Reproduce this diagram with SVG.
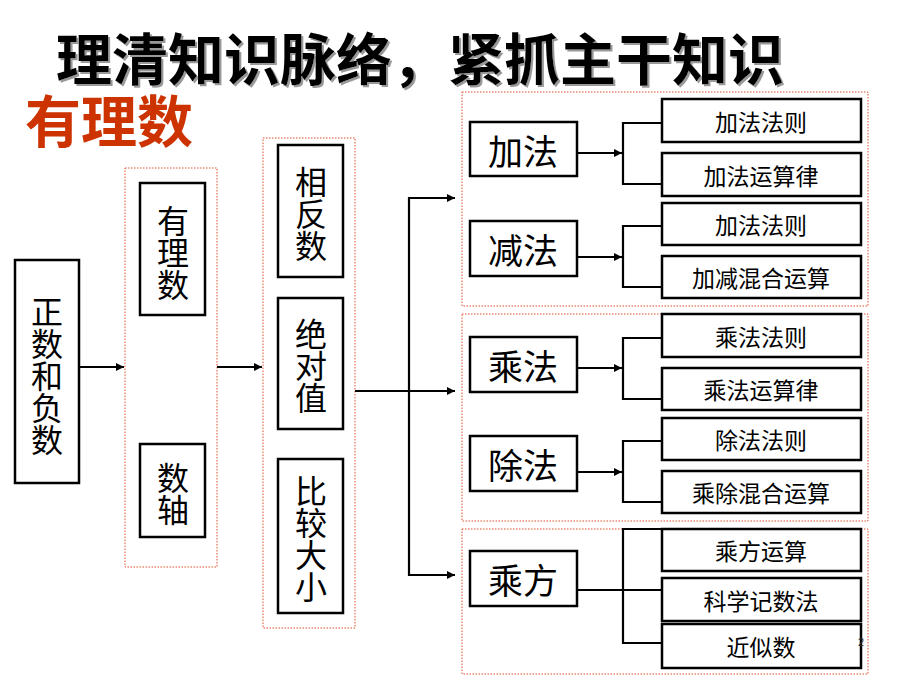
<svg xmlns="http://www.w3.org/2000/svg" width="920" height="690" viewBox="0 0 920 690">
<defs>
<marker id="ah" viewBox="0 0 8 8" refX="8" refY="4" markerWidth="8" markerHeight="8" markerUnits="userSpaceOnUse" orient="auto">
<path d="M0,0 L8,4 L0,8 z" fill="#000"/>
</marker>
<filter id="sh" x="-5%" y="-20%" width="110%" height="140%">
<feOffset in="SourceAlpha" dx="2" dy="2" result="o"/>
<feFlood flood-color="#999"/>
<feComposite in2="o" operator="in" result="s"/>
<feMerge><feMergeNode in="s"/><feMergeNode in="SourceGraphic"/></feMerge>
</filter>
<style>
.t{font-family:"Noto Sans CJK SC","Liberation Sans",sans-serif;fill:#000;text-anchor:middle;dominant-baseline:central}
.box{fill:#fff;stroke:#000;stroke-width:2.5}
.grp{fill:none;stroke:#E0502A;stroke-width:1;stroke-dasharray:1.5 1.5}
.v{font-size:32px;writing-mode:vertical-rl;text-orientation:upright}
.op{font-size:35px}
.sub{font-size:23px}
.ln{fill:none;stroke:#000;stroke-width:2.2}
.ar{fill:none;stroke:#000;stroke-width:2.2;marker-end:url(#ah)}
</style>
</defs>
<rect width="920" height="690" fill="#fff"/>

<g id="title">
<text class="t" x="420" y="55" filter="url(#sh)" style="font-size:56px;font-weight:bold">理清知识脉络，紧抓主干知识</text>
</g>
<g id="subtitle">
<text class="t" x="109" y="117" style="font-size:56px;font-weight:bold;fill:#CC3300">有理数</text>
</g>

<g id="groups">
<rect class="grp" x="125" y="168" width="92" height="399"/>
<rect class="grp" x="263" y="138" width="92" height="490"/>
<rect class="grp" x="462" y="92" width="406" height="214"/>
<rect class="grp" x="462" y="314" width="406" height="207"/>
<rect class="grp" x="462" y="529" width="406" height="145"/>
</g>

<g id="connectors">
<line class="ar" x1="80" y1="367" x2="124" y2="367"/>
<line class="ar" x1="217" y1="367" x2="262" y2="367"/>
<line class="ar" x1="355" y1="391" x2="455" y2="391"/>
<polyline class="ln" points="455,198 409,198 409,575 455,575"/>
<line class="ar" x1="409" y1="198" x2="455" y2="198"/>
<line class="ar" x1="409" y1="575" x2="455" y2="575"/>
<line class="ar" x1="577" y1="153" x2="622" y2="153"/>
<polyline class="ln" points="661,123 623,123 623,184 661,184"/>
<line class="ar" x1="577" y1="257" x2="622" y2="257"/>
<polyline class="ln" points="661,226 623,226 623,287 661,287"/>
<line class="ar" x1="577" y1="368" x2="622" y2="368"/>
<polyline class="ln" points="661,338 623,338 623,399 661,399"/>
<line class="ar" x1="577" y1="472" x2="622" y2="472"/>
<polyline class="ln" points="661,441 623,441 623,502 661,502"/>
<line class="ln" x1="577" y1="590" x2="661" y2="590"/>
<polyline class="ln" points="661,529 623,529 623,643 661,643"/>
</g>

<g id="n-zhengfu">
<rect class="box" x="15" y="260" width="64" height="223"/>
<text class="t v" x="47" y="376">正数和负数</text>
</g>
<g id="n-youlishu">
<rect class="box" x="140" y="183" width="65" height="132"/>
<text class="t v" x="173" y="253">有理数</text>
</g>
<g id="n-shuzhou">
<rect class="box" x="140" y="444" width="65" height="93"/>
<text class="t v" x="173" y="494">数轴</text>
</g>
<g id="n-xiangfanshu">
<rect class="box" x="278" y="145" width="65" height="132"/>
<text class="t v" x="311" y="214">相反数</text>
</g>
<g id="n-jueduizhi">
<rect class="box" x="278" y="298" width="65" height="131"/>
<text class="t v" x="311" y="366">绝对值</text>
</g>
<g id="n-bijiao">
<rect class="box" x="278" y="459" width="65" height="154"/>
<text class="t v" x="311" y="539">比较大小</text>
</g>

<g id="n-jiafa">
<rect class="box" x="470" y="122" width="107" height="54"/>
<text class="t op" x="523" y="149">加法</text>
</g>
<g id="n-jianfa">
<rect class="box" x="470" y="221" width="107" height="55"/>
<text class="t op" x="523" y="248">减法</text>
</g>
<g id="n-chengfa">
<rect class="box" x="470" y="337" width="107" height="55"/>
<text class="t op" x="523" y="364">乘法</text>
</g>
<g id="n-chufa">
<rect class="box" x="470" y="436" width="107" height="55"/>
<text class="t op" x="523" y="463">除法</text>
</g>
<g id="n-chengfang">
<rect class="box" x="470" y="551" width="107" height="55"/>
<text class="t op" x="523" y="578">乘方</text>
</g>

<g id="s-jiafafaze">
<rect class="box" x="662" y="99" width="199" height="43"/>
<text class="t sub" x="761" y="121">加法法则</text>
</g>
<g id="s-jiafayunsuanlv">
<rect class="box" x="662" y="153" width="199" height="43"/>
<text class="t sub" x="761" y="175">加法运算律</text>
</g>
<g id="s-jiafafaze2">
<rect class="box" x="662" y="203" width="199" height="42"/>
<text class="t sub" x="761" y="224">加法法则</text>
</g>
<g id="s-jiajianhunhe">
<rect class="box" x="662" y="256" width="199" height="42"/>
<text class="t sub" x="761" y="277">加减混合运算</text>
</g>
<g id="s-chengfafaze">
<rect class="box" x="662" y="314" width="199" height="43"/>
<text class="t sub" x="761" y="336">乘法法则</text>
</g>
<g id="s-chengfayunsuanlv">
<rect class="box" x="662" y="368" width="199" height="42"/>
<text class="t sub" x="761" y="389">乘法运算律</text>
</g>
<g id="s-chufafaze">
<rect class="box" x="662" y="418" width="199" height="42"/>
<text class="t sub" x="761" y="439">除法法则</text>
</g>
<g id="s-chengchuhunhe">
<rect class="box" x="662" y="471" width="199" height="42"/>
<text class="t sub" x="761" y="492">乘除混合运算</text>
</g>
<g id="s-chengfangyunsuan">
<rect class="box" x="662" y="529" width="199" height="42"/>
<text class="t sub" x="761" y="550">乘方运算</text>
</g>
<g id="s-kexuejishufa">
<rect class="box" x="662" y="578" width="199" height="43"/>
<text class="t sub" x="761" y="600">科学记数法</text>
</g>
<g id="s-jinsishu">
<rect class="box" x="662" y="624" width="199" height="44"/>
<text class="t sub" x="761" y="646">近似数</text>
</g>

<text x="861" y="646" style="font-family:'Liberation Sans',sans-serif;font-size:11px;fill:#333;text-anchor:middle">2</text>
</svg>
